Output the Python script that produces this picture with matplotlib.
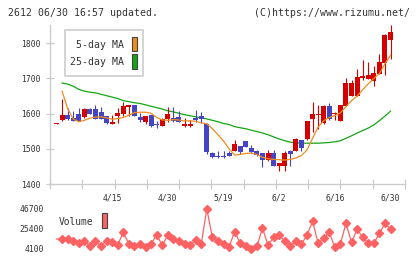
import numpy as np
import matplotlib
matplotlib.use("Agg")
import matplotlib.pyplot as plt
from matplotlib.patches import Rectangle

# OHLC, one row per trading day (Apr -> Jun 30)
opens = [1571, 1581, 1595, 1588, 1599, 1590, 1612, 1613, 1604, 1592,
         1571, 1592, 1599, 1620, 1625, 1590, 1576, 1595, 1571, 1565,
         1584, 1588, 1590, 1566, 1566, 1587, 1592, 1571, 1488, 1479,
         1479, 1487, 1495, 1507, 1521, 1502, 1495, 1488, 1467, 1488,
         1450, 1452, 1495, 1495, 1524, 1527, 1584, 1596, 1573, 1621,
         1598, 1579, 1622, 1650, 1650, 1700, 1699, 1693, 1713, 1745, 1810]
closes = [1571, 1595, 1584, 1579, 1579, 1614, 1599, 1585, 1585, 1574,
          1576, 1602, 1621, 1624, 1593, 1582, 1592, 1566, 1567, 1586,
          1598, 1578, 1576, 1570, 1570, 1581, 1585, 1490, 1476, 1476,
          1476, 1480, 1515, 1490, 1505, 1490, 1482, 1467, 1488, 1452,
          1459, 1488, 1484, 1527, 1502, 1578, 1600, 1600, 1621, 1584,
          1603, 1624, 1688, 1688, 1703, 1707, 1710, 1716, 1747, 1824, 1831]
highs = [1573, 1641, 1616, 1607, 1617, 1615, 1616, 1624, 1618, 1593,
         1595, 1616, 1632, 1625, 1626, 1602, 1593, 1596, 1579, 1587,
         1618, 1618, 1607, 1588, 1581, 1610, 1604, 1573, 1492, 1495,
         1495, 1494, 1524, 1508, 1522, 1510, 1496, 1489, 1497, 1497,
         1460, 1493, 1496, 1530, 1525, 1579, 1633, 1624, 1624, 1629,
         1604, 1626, 1702, 1697, 1727, 1752, 1748, 1735, 1769, 1827, 1852]
lows = [1570, 1579, 1583, 1578, 1578, 1589, 1598, 1584, 1584, 1571,
        1570, 1574, 1593, 1593, 1592, 1576, 1570, 1561, 1559, 1564,
        1576, 1577, 1575, 1563, 1562, 1575, 1572, 1486, 1475, 1475,
        1475, 1479, 1494, 1484, 1504, 1489, 1481, 1448, 1466, 1450,
        1436, 1436, 1452, 1494, 1495, 1524, 1548, 1557, 1570, 1583,
        1581, 1578, 1621, 1649, 1649, 1697, 1698, 1679, 1712, 1709, 1754]

# moving averages as drawn (start on day 1)
ma5 = [1664, 1614, 1585, 1577, 1581, 1587, 1590, 1591, 1588, 1584,
       1586, 1589, 1596, 1603, 1604, 1604, 1601, 1589, 1582, 1581,
       1583, 1582, 1579, 1580, 1578, 1574, 1571, 1557, 1540, 1522,
       1500, 1482, 1484, 1487, 1488, 1484, 1476, 1472, 1470, 1469,
       1468, 1470, 1474, 1481, 1497, 1530, 1562, 1580, 1589, 1595,
       1602, 1620, 1637, 1650, 1668, 1685, 1700, 1714, 1742, 1766]
ma25 = [1687, 1684, 1678, 1669, 1664, 1661, 1659, 1655, 1651, 1647,
        1643, 1637, 1634, 1631, 1629, 1625, 1621, 1617, 1613, 1608,
        1605, 1601, 1597, 1594, 1591, 1588, 1585, 1581, 1577, 1572,
        1569, 1563, 1560, 1557, 1553, 1549, 1545, 1540, 1534, 1528,
        1523, 1519, 1517, 1516, 1516, 1516, 1516, 1517, 1518, 1520,
        1523, 1530, 1537, 1545, 1552, 1559, 1568, 1580, 1593, 1607]

volume = [14750, 14750, 14750, 12265, 10135, 12975, 7295, 12975, 7295, 12975,
          11555, 8715, 21850, 9425, 7295, 9425, 5875, 9425, 19010, 8005,
          19010, 14395, 12975, 9425, 8715, 13685, 9425, 46700, 16525, 12975,
          9425, 6585, 22560, 10135, 7295, 4100, 7295, 26110, 8360, 16525,
          19010, 12265, 7295, 12265, 9425, 19010, 33565, 10135, 15460, 21850,
          5875, 9425, 31435, 11200, 25045, 16525, 10135, 10135, 20785, 31435, 25045]

date_labels = ['4/15', '4/30', '5/19', '6/2', '6/16', '6/30']
date_pos = [10, 20, 30, 40, 50, 60]
price_ticks = [1400, 1500, 1600, 1700, 1800]
vol_ticks = [4100, 25400, 46700]

W, H = 420, 259
RED = '#d40000'
BLUE = '#4444c4'
ORANGE = '#f08c1e'
GREEN = '#14a514'
VOLC = '#ff6262'
GRID = '#cccccc'
TXT = '#333333'
FONT = 'DejaVu Sans Mono'

plt.rcParams['font.family'] = FONT

fig = plt.figure(figsize=(W / 100, H / 100), dpi=100)

def fx(x):
    return x / W

def fy(y):
    return 1 - y / H

x_left, x_right = -1.17, 62.6
n = len(opens)
idx = np.arange(n)

# price panel
ax = fig.add_axes([fx(50), fy(184), fx(405) - fx(50), fy(25) - fy(184)])
o = np.array(opens, float)
c = np.array(closes, float)
up = c >= o
colors = np.where(up, RED, BLUE)
ax.vlines(idx, lows, highs, colors=colors, linewidth=0.8, zorder=3)
bottom = np.minimum(o, c)
height = np.maximum(np.abs(c - o), 3)
ax.bar(idx, height, bottom=bottom, width=0.9, color=colors, linewidth=0, zorder=4)
ax.plot(idx[1:], ma5, color=ORANGE, lw=0.9, zorder=5)
ax.plot(idx[1:], ma25, color=GREEN, lw=0.9, zorder=2)

ax.set_xlim(x_left, x_right)
ax.set_ylim(1400, max(highs))
for s in ['top', 'right']:
    ax.spines[s].set_visible(False)
for s in ['left', 'bottom']:
    ax.spines[s].set_color(GRID)
    ax.spines[s].set_linewidth(1.0)
ax.set_yticks(price_ticks)
ax.set_yticklabels([str(t) for t in price_ticks])
ax.tick_params(axis='y', direction='inout', length=5.8, width=0.9, color=GRID,
               labelsize=5.8, labelcolor=TXT, pad=4)
ax.set_xticks(date_pos)
ax.set_xticklabels(date_labels)
ax.set_xticks(np.linspace(x_left, x_right, 12), minor=True)
ax.tick_params(axis='x', which='major', length=0, labelsize=5.8, labelcolor=TXT, pad=7)
ax.tick_params(axis='x', which='minor', direction='inout', length=6.5, width=0.9, color=GRID)

# legend box
fig.patches.append(Rectangle((fx(65), fy(76)), fx(143) - fx(65), fy(30) - fy(76),
                             transform=fig.transFigure, facecolor='white',
                             edgecolor=GRID, linewidth=1.2, zorder=10))
fig.text(fx(124), fy(45), '5-day MA', ha='right', va='center', fontsize=7.1, color=TXT, zorder=11)
fig.text(fx(124), fy(62), '25-day MA', ha='right', va='center', fontsize=7.1, color=TXT, zorder=11)
fig.patches.append(Rectangle((fx(131.7), fy(51)), fx(5.6), fy(37.3) - fy(51),
                             transform=fig.transFigure, facecolor=ORANGE,
                             edgecolor='#444444', linewidth=0.8, zorder=11))
fig.patches.append(Rectangle((fx(131.7), fy(69)), fx(5.6), fy(54.3) - fy(69),
                             transform=fig.transFigure, facecolor=GREEN,
                             edgecolor='#444444', linewidth=0.8, zorder=11))

# volume panel
axv = fig.add_axes([fx(50), fy(249), fx(405) - fx(50), fy(209) - fy(249)])
axv.plot(idx, volume, color=VOLC, lw=0.9, clip_on=False)
axv.plot(idx[1:], volume[1:], linestyle='none', marker='D', ms=3.7,
         color=VOLC, clip_on=False)
axv.set_xlim(x_left, x_right)
axv.set_ylim(min(vol_ticks), max(vol_ticks))
for s in axv.spines.values():
    s.set_visible(False)
axv.set_xticks([])
axv.set_yticks(vol_ticks)
axv.set_yticklabels([str(t) for t in vol_ticks])
axv.tick_params(axis='y', length=0, labelsize=5.8, labelcolor=TXT, pad=4.3)
axv.patch.set_alpha(0)

fig.text(fx(59), fy(222), 'Volume', ha='left', va='center', fontsize=6.9, color=TXT)
fig.patches.append(Rectangle((fx(101.7), fy(228.3)), fx(5.6), fy(213.3) - fy(228.3),
                             transform=fig.transFigure, facecolor=VOLC,
                             edgecolor='#444444', linewidth=0.8))

# header
fig.text(fx(8), fy(12.7), '2612 06/30 16:57 updated.', ha='left', va='center',
         fontsize=7.1, color=TXT)
fig.text(fx(410), fy(12.7), '(C)https://www.rizumu.net/', ha='right', va='center',
         fontsize=7.1, color=TXT)

fig.savefig('out.png', dpi=100)
